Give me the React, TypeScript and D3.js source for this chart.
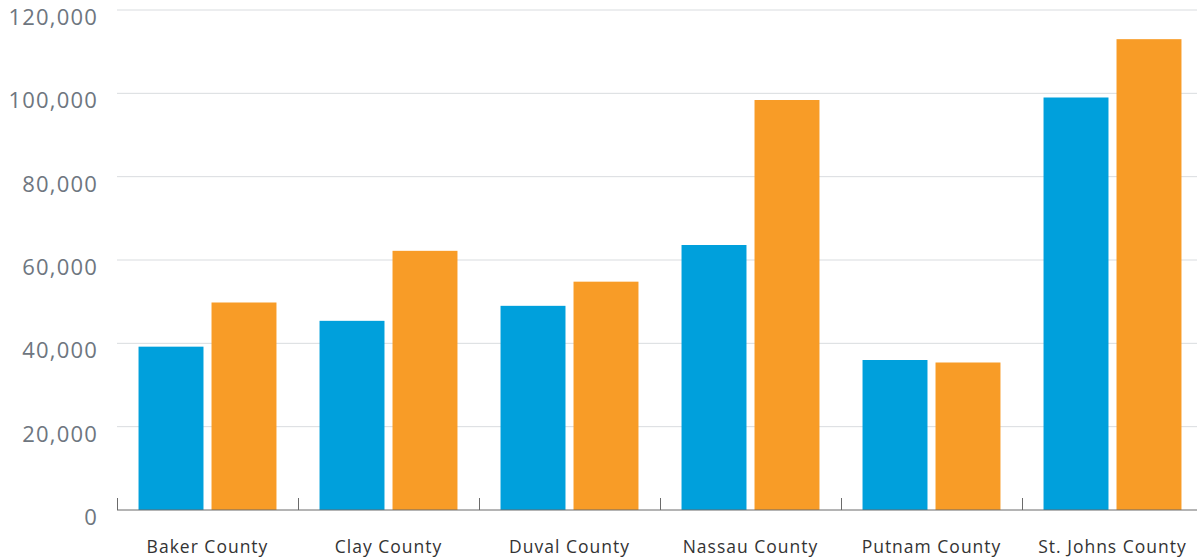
import React from "react";
import * as d3 from "d3";

const categories = ["Baker County", "Clay County", "Duval County", "Nassau County", "Putnam County", "St. Johns County"];
const seriesA = [39200, 45400, 49000, 63600, 36000, 99000];
const seriesB = [49800, 62200, 54800, 98400, 35400, 113000];
const yTicks = [0, 20000, 40000, 60000, 80000, 100000, 120000];

const W = 1197;
const H = 558;
const left = 117;
const right = 1203;
const top = 10;
const bottom = 510;

export default function App() {
  const x = d3.scaleBand<string>().domain(categories).range([left, right]).paddingInner(0).paddingOuter(0);
  const inner = d3.scaleBand<string>().domain(["a", "b"]).range([0, x.bandwidth()]).paddingInner(0.11).paddingOuter(0.295);
  const y = d3.scaleLinear().domain([0, 120000]).range([bottom, top]);
  const fmt = d3.format(",");
  const font = "'Open Sans', Lato, sans-serif";

  return (
    <svg width={W} height={H} style={{ position: "absolute", left: 0, top: 0, display: "block" }}>
      <rect width={W} height={H} fill="#fff" />
      {yTicks.map((t) => (
        <g key={t}>
          {t > 0 && <line x1={left} x2={W} y1={y(t)} y2={y(t)} stroke="#d9dcdf" strokeWidth={1} />}
          <text x={98} y={y(t) + 9} textAnchor="end" dominantBaseline="middle" fontFamily={font} fontSize={22} letterSpacing={1.2} fill="#6e7680">
            {fmt(t)}
          </text>
        </g>
      ))}
      {categories.map((c, i) => (
        <g key={c}>
          <rect x={(x(c) as number) + (inner("a") as number)} y={y(seriesA[i])} width={inner.bandwidth()} height={bottom - y(seriesA[i])} fill="#00a0dc" />
          <rect x={(x(c) as number) + (inner("b") as number)} y={y(seriesB[i])} width={inner.bandwidth()} height={bottom - y(seriesB[i])} fill="#f89c27" />
          <text x={(x(c) as number) + x.bandwidth() / 2} y={553} textAnchor="middle" fontFamily={font} fontSize={17.5} letterSpacing={1} fill="#333">
            {c}
          </text>
        </g>
      ))}
      <line x1={left} x2={W} y1={bottom} y2={bottom} stroke="#6b6b6b" strokeWidth={1} />
      {categories.map((c) => (
        <line key={"t" + c} x1={Math.round(x(c) as number) + 0.5} x2={Math.round(x(c) as number) + 0.5} y1={bottom} y2={bottom - 12} stroke="#6b6b6b" strokeWidth={1} />
      ))}
    </svg>
  );
}
